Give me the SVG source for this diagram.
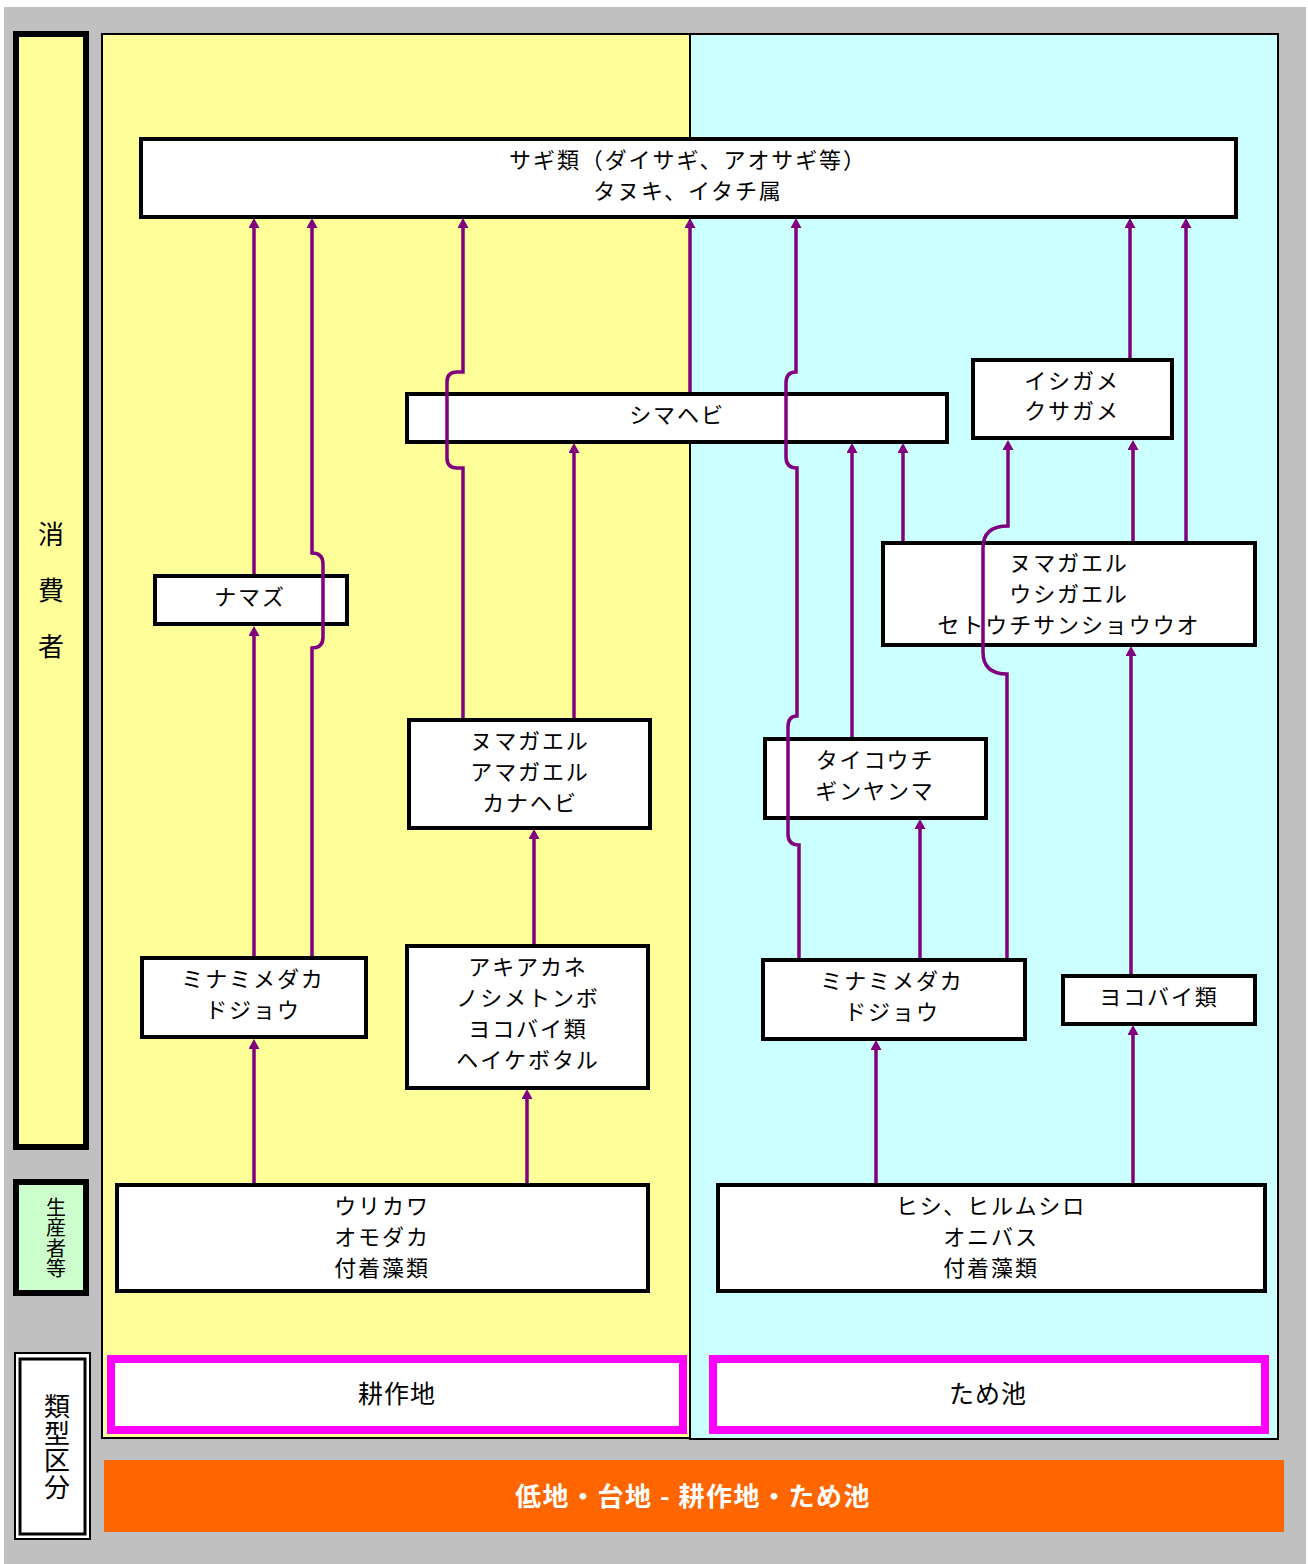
<svg xmlns="http://www.w3.org/2000/svg" width="1308" height="1564" viewBox="0 0 1308 1564">
<style>
.box{fill:#fff;stroke:#000;stroke-width:4}
.t{font-family:"Noto Sans CJK JP","Noto Sans",sans-serif;font-size:22px;letter-spacing:1.9px;text-anchor:middle;fill:#000}
.lab{font-family:"Noto Sans CJK JP","Noto Sans",sans-serif;text-anchor:middle;fill:#000}
.v{writing-mode:vertical-rl}
.c{fill:none;stroke:#800080;stroke-width:3.5;marker-end:url(#ah)}
</style>
<defs>
<marker id="ah" markerUnits="userSpaceOnUse" markerWidth="10" markerHeight="11" refX="0" refY="5.5" orient="auto">
<path d="M0,0 L10,5.5 L0,11 z" fill="#800080"/>
</marker>
</defs>
<rect x="0" y="0" width="1308" height="1564" fill="#fff"/>
<rect x="4" y="7" width="1302" height="1557" fill="#C0C0C0"/>

<g id="panel-left"><rect x="102" y="34" width="588" height="1404" fill="#FFFF99" stroke="#000" stroke-width="2"/></g>
<g id="panel-right"><rect x="690" y="34" width="588" height="1405" fill="#CCFFFF" stroke="#000" stroke-width="2"/></g>

<g id="label-consumer">
<rect x="16" y="34" width="70" height="1113" fill="#FFFF99" stroke="#000" stroke-width="6"/>
<text class="lab v" x="51" y="605" font-size="26" letter-spacing="30">消費者</text>
</g>
<g id="label-producer">
<rect x="16" y="1182" width="70" height="111" fill="#CCFFCC" stroke="#000" stroke-width="6"/>
<text class="lab v" x="56" y="1238" font-size="20" letter-spacing="0.3">生産者等</text>
</g>
<g id="label-type">
<rect x="15" y="1353" width="75" height="186" fill="#fff" stroke="#000" stroke-width="2"/>
<rect x="20" y="1359" width="65" height="175" fill="#fff" stroke="#000" stroke-width="3"/>
<text class="lab v" x="57" y="1447" font-size="26" letter-spacing="1">類型区分</text>
</g>

<g id="type-farmland">
<rect x="111" y="1359" width="572" height="71" fill="#fff" stroke="#FF00FF" stroke-width="8"/>
<text class="lab" x="397" y="1403" font-size="25" letter-spacing="1">耕作地</text>
</g>
<g id="type-pond">
<rect x="713" y="1359" width="552" height="71" fill="#fff" stroke="#FF00FF" stroke-width="8"/>
<text class="lab" x="988" y="1403" font-size="25" letter-spacing="1">ため池</text>
</g>
<g id="footer">
<rect x="104" y="1460" width="1180" height="72" fill="#FF6600"/>
<text class="lab" x="693" y="1506" font-size="26" font-weight="bold" letter-spacing="1.5" style="fill:#fff">低地・台地 - 耕作地・ため池</text>
</g>

<g id="n-top">
<rect class="box" x="141" y="139" width="1095" height="78"/>
<text class="t" x="688" y="168">サギ類（ダイサギ、アオサギ等）</text>
<text class="t" x="688" y="199">タヌキ、イタチ属</text>
</g>
<g id="n-shimahebi">
<rect class="box" x="407" y="394" width="540" height="48"/>
<text class="t" x="677" y="423">シマヘビ</text>
</g>
<g id="n-ishigame">
<rect class="box" x="973" y="360" width="199" height="78"/>
<text class="t" x="1072" y="389">イシガメ</text>
<text class="t" x="1072" y="419">クサガメ</text>
</g>
<g id="n-namazu">
<rect class="box" x="155" y="576" width="192" height="48"/>
<text class="t" x="250" y="605">ナマズ</text>
</g>
<g id="n-frogs-right">
<rect class="box" x="883" y="543" width="372" height="102"/>
<text class="t" x="1069" y="571">ヌマガエル</text>
<text class="t" x="1069" y="602">ウシガエル</text>
<text class="t" x="1069" y="633">セトウチサンショウウオ</text>
</g>
<g id="n-frogs-left">
<rect class="box" x="409" y="720" width="241" height="108"/>
<text class="t" x="530" y="749">ヌマガエル</text>
<text class="t" x="530" y="780">アマガエル</text>
<text class="t" x="530" y="811">カナヘビ</text>
</g>
<g id="n-taikouchi">
<rect class="box" x="765" y="739" width="221" height="79"/>
<text class="t" x="875" y="768">タイコウチ</text>
<text class="t" x="875" y="799">ギンヤンマ</text>
</g>
<g id="n-medaka-left">
<rect class="box" x="142" y="958" width="224" height="79"/>
<text class="t" x="253" y="987">ミナミメダカ</text>
<text class="t" x="253" y="1018">ドジョウ</text>
</g>
<g id="n-akiakane">
<rect class="box" x="407" y="946" width="241" height="142"/>
<text class="t" x="528" y="975">アキアカネ</text>
<text class="t" x="528" y="1006">ノシメトンボ</text>
<text class="t" x="528" y="1037">ヨコバイ類</text>
<text class="t" x="528" y="1068">ヘイケボタル</text>
</g>
<g id="n-medaka-right">
<rect class="box" x="763" y="960" width="262" height="79"/>
<text class="t" x="892" y="989">ミナミメダカ</text>
<text class="t" x="892" y="1020">ドジョウ</text>
</g>
<g id="n-yokobai">
<rect class="box" x="1063" y="976" width="192" height="48"/>
<text class="t" x="1159" y="1005">ヨコバイ類</text>
</g>
<g id="n-urikawa">
<rect class="box" x="117" y="1185" width="531" height="106"/>
<text class="t" x="382" y="1214">ウリカワ</text>
<text class="t" x="382" y="1245">オモダカ</text>
<text class="t" x="382" y="1276">付着藻類</text>
</g>
<g id="n-hishi">
<rect class="box" x="718" y="1185" width="547" height="106"/>
<text class="t" x="991" y="1214">ヒシ、ヒルムシロ</text>
<text class="t" x="991" y="1245">オニバス</text>
<text class="t" x="991" y="1276">付着藻類</text>
</g>

<g id="connectors">
<path class="c" d="M254,574 L254,228"/>
<path class="c" d="M312,956 L312,648 Q323,648 323,637 L323,564 Q323,553 312,553 L312,228"/>
<path class="c" d="M254,956 L254,636"/>
<path class="c" d="M254,1183 L254,1049"/>
<path class="c" d="M527,1183 L527,1099"/>
<path class="c" d="M534,944 L534,839"/>
<path class="c" d="M463,718 L463,468 L457,468 Q447,468 447,458 L447,382 Q447,372 457,372 L463,372 L463,228"/>
<path class="c" d="M574,718 L574,453"/>
<path class="c" d="M690,392 L690,228"/>
<path class="c" d="M799,958 L799,845 Q788,845 788,834 L788,727 Q788,716 797,716 L797,468 Q786,468 786,457 L786,383 Q786,372 796,372 L796,228"/>
<path class="c" d="M852,737 L852,453"/>
<path class="c" d="M903,541 L903,453"/>
<path class="c" d="M920,958 L920,829"/>
<path class="c" d="M1007,958 L1007,674 Q983,674 983,652 L983,548 Q983,526 1008,526 L1008,450"/>
<path class="c" d="M1133,541 L1133,450"/>
<path class="c" d="M1130,358 L1130,228"/>
<path class="c" d="M1186,541 L1186,228"/>
<path class="c" d="M1131,974 L1131,656"/>
<path class="c" d="M876,1183 L876,1050"/>
<path class="c" d="M1133,1183 L1133,1035"/>
</g>
</svg>
